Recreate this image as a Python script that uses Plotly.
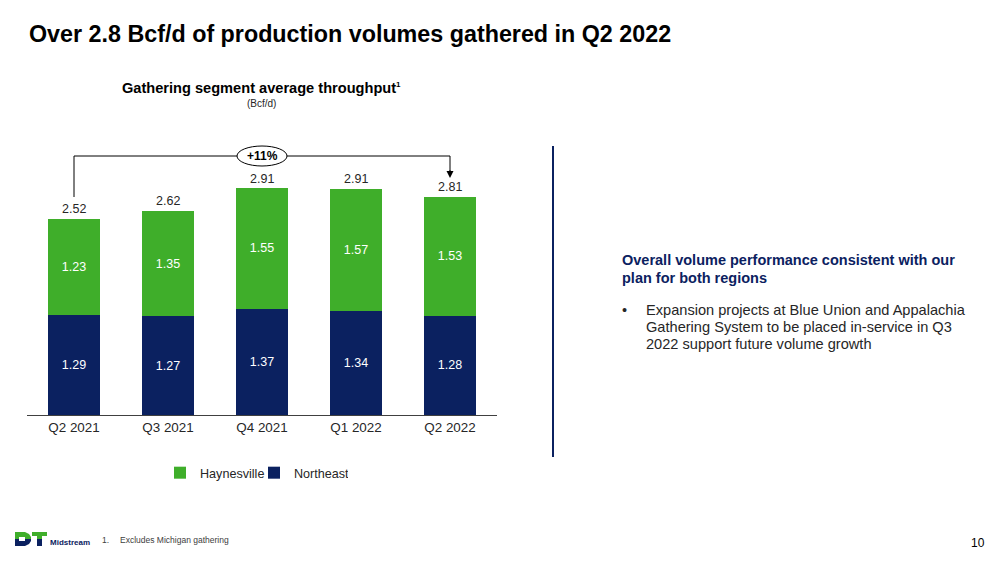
import plotly.graph_objects as go

quarters = ["Q2 2021", "Q3 2021", "Q4 2021", "Q1 2022", "Q2 2022"]
northeast = [1.29, 1.27, 1.37, 1.34, 1.28]
haynesville = [1.23, 1.35, 1.55, 1.57, 1.53]
totals = [2.52, 2.62, 2.91, 2.91, 2.81]
growth_label = "+11%"

heading_lines = [
    "Overall volume performance consistent with our",
    "plan for both regions",
]
bullet_lines = [
    "Expansion projects at Blue Union and Appalachia",
    "Gathering System to be placed in-service in Q3",
    "2022 support future volume growth",
]

GREEN = "#3FAE2A"
NAVY = "#0B2160"
TEXT = "#262626"
FONT = "Liberation Sans, Arial, sans-serif"
NARROW = "Liberation Sans Narrow, Liberation Sans, Arial, sans-serif"

# the page has an 8px body margin, so everything below is in page pixels
OFF = 8
W, H = 1007 - OFF, 566 - OFF
L, R, T, B = 27, 497, 140, 415  # plot area on the page
PX_PER_UNIT = 77.7
YMAX = (B - T) / PX_PER_UNIT


def px(x):
    """page pixel x -> paper x"""
    return (x - L) / (R - L)


def py(y):
    """page pixel y -> paper y"""
    return (B - y) / (B - T)


def dy(y):
    """page pixel y -> data y"""
    return (B - y) / PX_PER_UNIT


def text_at(fig, x, y, text, size, color=TEXT, family=FONT, xanchor="left"):
    fig.add_annotation(
        xref="paper", yref="paper", x=px(x), y=py(y), text=text,
        xanchor=xanchor, yanchor="middle", showarrow=False,
        font=dict(size=size, color=color, family=family),
    )


fig = go.Figure()
fig.add_trace(
    go.Bar(
        x=quarters,
        y=northeast,
        name="Northeast",
        marker=dict(color=NAVY, line=dict(width=0)),
        texttemplate="%{y:.2f}",
        textposition="inside",
        insidetextanchor="middle",
        textangle=0,
        textfont=dict(color="white", size=12.5, family=FONT),
    )
)
fig.add_trace(
    go.Bar(
        x=quarters,
        y=haynesville,
        name="Haynesville",
        marker=dict(color=GREEN, line=dict(width=0)),
        texttemplate="%{y:.2f}",
        textposition="inside",
        insidetextanchor="middle",
        textangle=0,
        textfont=dict(color="white", size=12.5, family=FONT),
    )
)

# totals on top of the stacks
for q, t in zip(quarters, totals):
    fig.add_annotation(
        x=q, y=t, text=f"{t:.2f}", showarrow=False,
        xanchor="center", yanchor="bottom", yshift=1,
        font=dict(size=12.5, color=TEXT, family=FONT),
    )

# growth bracket from first to last quarter
y_br = dy(156)
y_left = dy(197)
y_tip = dy(178)
fig.add_shape(
    type="path", xref="x", yref="y",
    path=f"M 0,{y_left} L 0,{y_br} L 4,{y_br} L 4,{y_tip + 0.08}",
    line=dict(color="black", width=1),
)
fig.add_annotation(
    x=4, y=y_tip, ax=4, ay=y_tip + 0.12, axref="x", ayref="y",
    xref="x", yref="y", text="", showarrow=True,
    arrowhead=2, arrowsize=1.4, arrowwidth=1, arrowcolor="black",
)
fig.add_shape(
    type="circle", xref="x", yref="y",
    xsizemode="pixel", ysizemode="pixel",
    xanchor=2, yanchor=y_br,
    x0=-25, x1=25, y0=-10, y1=10,
    fillcolor="white", line=dict(color="black", width=1),
)
fig.add_annotation(
    x=2, y=y_br, text=f"<b>{growth_label}</b>", showarrow=False,
    xanchor="center", yanchor="middle",
    font=dict(size=12, color="black", family=FONT),
)

# titles
text_at(fig, 27, 34, "<b>Over 2.8 Bcf/d of production volumes gathered in Q2 2022</b>",
        23.3, color="black", family=NARROW)
text_at(fig, 261, 88,
        "<b>Gathering segment average throughput<sup><span style='font-size:8px'>1</span></sup></b>",
        14.6, color="black", xanchor="center")
text_at(fig, 261, 103, "(Bcf/d)", 10, xanchor="center")

# right-hand commentary
fig.add_shape(
    type="line", xref="paper", yref="paper",
    x0=px(553), x1=px(553), y0=py(146), y1=py(457),
    line=dict(color=NAVY, width=2),
)
for i, line in enumerate(heading_lines):
    text_at(fig, 620, 260 + 18 * i, f"<b>{line}</b>", 14.5, color=NAVY)
text_at(fig, 620, 310, "•", 14.5)
for i, line in enumerate(bullet_lines):
    text_at(fig, 644, 310 + 17 * i, line, 14.6)

# footer
text_at(fig, 100, 540, "1.", 8.5, color="#404040")
text_at(fig, 118, 540, "Excludes Michigan gathering", 8.5, color="#404040")
text_at(fig, 978, 543, "10", 12, color="black", xanchor="center")


# logo: D and T, green top half, navy bottom half
def logo_path(points):
    return "M " + " L ".join(f"{px(a)},{py(b)}" for a, b in points) + " Z"


d_top = [(15, 532), (25, 532), (29, 534), (31, 537), (31, 539), (15, 539)]
d_bot = [(15, 539), (31, 539), (31, 541), (29, 544), (25, 546), (15, 546)]
t_top = [(32, 532), (47, 532), (47, 536), (42, 536), (42, 539), (37, 539), (37, 536), (32, 536)]
t_bot = [(37, 539), (42, 539), (42, 546), (37, 546)]
for pts, col in [(d_top, GREEN), (d_bot, NAVY), (t_top, GREEN), (t_bot, NAVY)]:
    fig.add_shape(
        type="path", xref="paper", yref="paper", path=logo_path(pts),
        fillcolor=col, line=dict(width=0),
    )
fig.add_shape(
    type="rect", xref="paper", yref="paper",
    x0=px(19), x1=px(25), y0=py(537), y1=py(541),
    fillcolor="white", line=dict(width=0),
)
text_at(fig, 48, 542, "<b>Midstream</b>", 8, color=NAVY, family=NARROW)

fig.update_layout(
    width=W,
    height=H,
    margin=dict(l=L - OFF, r=W - (R - OFF), t=T - OFF, b=H - (B - OFF)),
    barmode="stack",
    bargap=0.45,
    plot_bgcolor="white",
    paper_bgcolor="white",
    hovermode=False,
    uniformtext=dict(minsize=12, mode="show"),
    legend=dict(
        orientation="h",
        traceorder="reversed",
        x=px(160), y=py(458), xanchor="left", yanchor="top",
        font=dict(size=12.6, color=TEXT, family=FONT),
        entrywidth=49, entrywidthmode="pixels",
        itemwidth=30,
    ),
    xaxis=dict(
        showline=True, linecolor="#404040", linewidth=1,
        ticks="", tickfont=dict(size=13.4, color=TEXT, family=FONT),
        range=[-0.5, 4.5], fixedrange=True,
    ),
    yaxis=dict(visible=False, range=[0, YMAX], showgrid=False, zeroline=False),
)

fig.write_html("out.html")
